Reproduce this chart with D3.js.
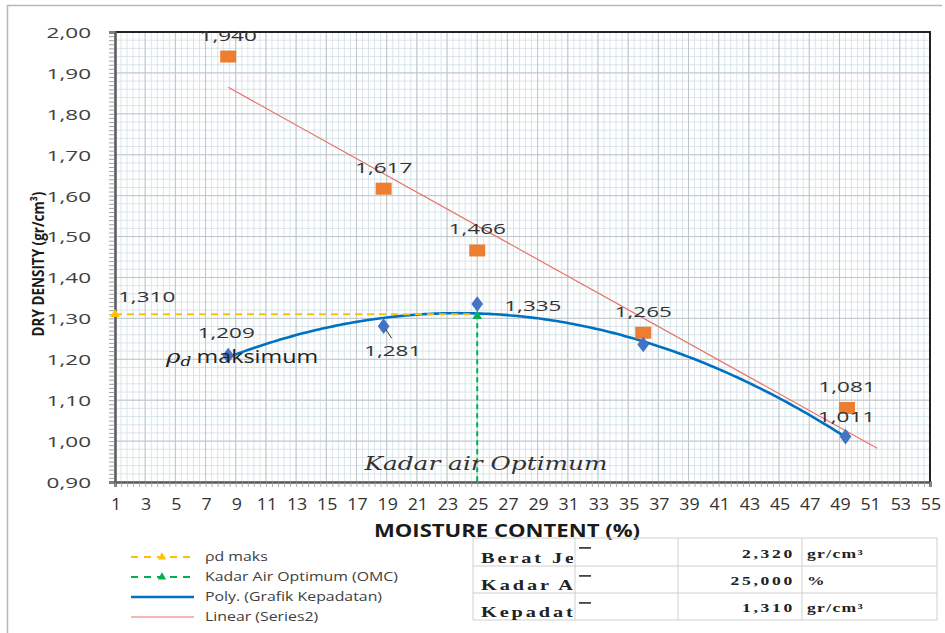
<!DOCTYPE html>
<html>
<head>
<meta charset="utf-8">
<script src="https://cdn.jsdelivr.net/npm/d3@7"></script>
<style>
  html, body { margin: 0; padding: 0; background: #fff; }
  svg { display: block; }
</style>
</head>
<body>
<svg id="chart" width="945" height="633"></svg>
<script>
// Compaction test: moisture content (%) vs dry density (gr/cm³)
const moisture      = [8.5, 18.8, 25.0, 36.0, 49.4];
const dryDensity    = [1.209, 1.281, 1.335, 1.236, 1.011];   // Grafik Kepadatan
const series2       = [1.940, 1.617, 1.466, 1.265, 1.081];   // Series2
const series2X      = [8.5, 18.8, 25.0, 36.0, 49.5];
const omc           = 25.0;     // Kadar Air Optimum
const rhoMax        = 1.310;    // ρd maks
const xTickValues   = d3.range(1, 56, 2);
const yTickValues   = [0.90, 1.00, 1.10, 1.20, 1.30, 1.40, 1.50, 1.60, 1.70, 1.80, 1.90, 2.00];
const legendLabels  = ["ρd maks", "Kadar Air Optimum (OMC)", "Poly. (Grafik Kepadatan)", "Linear (Series2)"];
const tableLabels   = ["Berat Je", "Kadar Ai", "Kepadata"];   // narrow first column cuts the names
const tableValues   = [2.320, 25.000, 1.310];
const tableUnits    = ["gr/cm³", "%", "gr/cm³"];

const C = {
  orange: "#ED7D31", diamond: "#4472C4", poly: "#0070C0", linear: "#E8736C",
  yellow: "#FFC000", green: "#00B050", text: "#404040"
};

const loc = d3.formatLocale({decimal: ",", thousands: ".", grouping: [3], currency: ["", ""]});
const f2 = loc.format(".2f"), f3 = loc.format(".3f");

const svg = d3.select("#chart");
const W = 945, H = 633;
const plot = {left: 115, right: 930, top: 32, bottom: 482};

const x = d3.scaleLinear().domain([1, 55]).range([plot.left, plot.right]);
const y = d3.scaleLinear().domain([0.90, 2.00]).range([plot.bottom, plot.top]);

// horizontally stretched text helper
function label(g, px, py, str, o = {}) {
  const t = g.append("text")
    .attr("transform", `translate(${px},${py}) scale(${o.sx || 1},1)`)
    .attr("font-family", o.family || "'Open Sans', sans-serif")
    .attr("font-size", o.size || 15)
    .attr("font-weight", o.weight || "normal")
    .attr("font-style", o.style || "normal")
    .attr("fill", o.fill || C.text)
    .attr("text-anchor", o.anchor || "start")
    .text(str);
  if (o.ls) t.attr("letter-spacing", o.ls);
  return t;
}

svg.append("rect").attr("width", W).attr("height", H).attr("fill", "#fff");
// outer chart frame
svg.append("path")
  .attr("d", "M7.5,640 V5.5 H942")
  .attr("fill", "none").attr("stroke", "#b8b8b8").attr("stroke-width", 1.5);

// ---------- grid ----------
const grid = svg.append("g");
const xMinor = d3.range(1, 55.001, 0.4);
const yMinor = d3.range(0.90, 2.0001, 0.02);
grid.selectAll(".vm").data(xMinor).join("line")
  .attr("x1", d => x(d)).attr("x2", d => x(d))
  .attr("y1", plot.top).attr("y2", plot.bottom)
  .attr("stroke", "#cfe0e6").attr("stroke-width", 0.8);
grid.selectAll(".hm").data(yMinor).join("line")
  .attr("x1", plot.left).attr("x2", plot.right)
  .attr("y1", d => y(d)).attr("y2", d => y(d))
  .attr("stroke", "#cfe0e6").attr("stroke-width", 0.8);
grid.selectAll(".vM").data(xTickValues).join("line")
  .attr("x1", d => x(d)).attr("x2", d => x(d))
  .attr("y1", plot.top).attr("y2", plot.bottom)
  .attr("stroke", "#bcc3c6").attr("stroke-width", 0.9);
grid.selectAll(".hM").data(yTickValues).join("line")
  .attr("x1", plot.left).attr("x2", plot.right)
  .attr("y1", d => y(d)).attr("y2", d => y(d))
  .attr("stroke", "#bcc3c6").attr("stroke-width", 0.9);

// plot border
svg.append("path")
  .attr("d", `M${plot.left},${plot.top} H${plot.right} V${plot.bottom}`)
  .attr("fill", "none").attr("stroke", "#222").attr("stroke-width", 2);

// ---------- axes ----------
const yMinorTicks = d3.range(0.90, 2.0001, 0.01);
svg.append("g").attr("transform", `translate(${plot.left},0)`)
  .call(d3.axisLeft(y).tickValues(yMinorTicks).tickSize(6).tickFormat(""))
  .call(g => g.select(".domain").attr("stroke", "#595959").attr("stroke-width", 2.5))
  .call(g => g.selectAll(".tick line").attr("stroke", "#8a8a8a").attr("stroke-width", 0.8));

const xMinorTicks = d3.range(1, 55.001, 0.4);
svg.append("g").attr("transform", `translate(0,${plot.bottom})`)
  .call(d3.axisBottom(x).tickValues(xMinorTicks).tickSize(5).tickFormat(""))
  .call(g => g.select(".domain").attr("stroke", "#595959").attr("stroke-width", 2.5))
  .call(g => g.selectAll(".tick line").attr("stroke", "#9a9a9a").attr("stroke-width", 0.8));

// tick labels
const yLab = svg.append("g").attr("transform", `translate(${plot.left},0)`)
  .call(d3.axisLeft(y).tickValues(yTickValues).tickSize(0).tickPadding(0).tickFormat(f2));
yLab.select(".domain").remove();
yLab.selectAll("text")
  .attr("font-family", "'Open Sans', sans-serif").attr("font-size", 15).attr("fill", C.text)
  .attr("dy", "0.36em").attr("x", -24 / 1.5)
  .attr("transform", "scale(1.5,1)");

const xLab = svg.append("g").attr("transform", `translate(0,${plot.bottom})`)
  .call(d3.axisBottom(x).tickValues(xTickValues).tickSize(0).tickPadding(0).tickFormat(d3.format("d")));
xLab.select(".domain").remove();
xLab.selectAll("text")
  .attr("font-family", "'Open Sans', sans-serif").attr("font-size", 15.5).attr("fill", "#333")
  .attr("dy", 0).attr("y", 28)
  .attr("transform", "scale(1.15,1)")
  .attr("x", 0);
xLab.selectAll(".tick").attr("transform", d => `translate(${x(d) + 1},0)`);

// axis titles
label(svg, 507, 537, "MOISTURE CONTENT (%)", {size: 17, weight: "bold", anchor: "middle", sx: 1.3, fill: "#1a1a1a"});
svg.append("text")
  .attr("transform", "translate(44,264) scale(1.2,1) rotate(-90)")
  .attr("font-family", "'Open Sans', sans-serif").attr("font-size", 13.5).attr("font-weight", "bold")
  .attr("fill", "#1a1a1a").attr("text-anchor", "middle")
  .text("DRY DENSITY (gr/cm³)");

// ---------- trendlines ----------
// least-squares linear fit for Series2
const mx = d3.mean(series2X), my = d3.mean(series2);
const slope = d3.sum(series2X, (v, i) => (v - mx) * (series2[i] - my)) / d3.sum(series2X, v => (v - mx) ** 2);
const icpt = my - slope * mx;
const linX = [d3.min(series2X), d3.max(series2X) + 2];
svg.append("line")
  .attr("x1", x(linX[0])).attr("y1", y(icpt + slope * linX[0]))
  .attr("x2", x(linX[1])).attr("y2", y(icpt + slope * linX[1]))
  .attr("stroke", C.linear).attr("stroke-width", 1.2);

// second-order polynomial fit for Grafik Kepadatan
function polyFit2(xs, ys) {
  const S = k => d3.sum(xs, v => v ** k);
  const T = k => d3.sum(xs, (v, i) => v ** k * ys[i]);
  const A = [[S(0), S(1), S(2)], [S(1), S(2), S(3)], [S(2), S(3), S(4)]];
  const b = [T(0), T(1), T(2)];
  for (let i = 0; i < 3; i++) {
    for (let j = i + 1; j < 3; j++) {
      const f = A[j][i] / A[i][i];
      for (let k = i; k < 3; k++) A[j][k] -= f * A[i][k];
      b[j] -= f * b[i];
    }
  }
  const c = [0, 0, 0];
  for (let i = 2; i >= 0; i--) {
    let s = b[i];
    for (let k = i + 1; k < 3; k++) s -= A[i][k] * c[k];
    c[i] = s / A[i][i];
  }
  return c;
}
const pc = polyFit2(moisture, dryDensity);
const polyX = d3.range(d3.min(moisture), d3.max(moisture) + 0.001, 0.25);
svg.append("path")
  .datum(polyX)
  .attr("d", d3.line().x(d => x(d)).y(d => y(pc[0] + pc[1] * d + pc[2] * d * d)).curve(d3.curveMonotoneX))
  .attr("fill", "none").attr("stroke", C.poly).attr("stroke-width", 2.6);

// ---------- reference lines ----------
const tri = d3.symbol().type(d3.symbolTriangle).size(40);
const rhoLine = [[1, rhoMax], [omc, rhoMax]];
const omcLine = [[omc, rhoMax], [omc, 0.90]];
svg.append("path").datum(rhoLine)
  .attr("d", d3.line().x(d => x(d[0])).y(d => y(d[1])))
  .attr("stroke", C.yellow).attr("stroke-width", 1.8).attr("stroke-dasharray", "7,5").attr("fill", "none");
svg.append("path").datum(omcLine)
  .attr("d", d3.line().x(d => x(d[0])).y(d => y(d[1])))
  .attr("stroke", C.green).attr("stroke-width", 2).attr("stroke-dasharray", "5,4").attr("fill", "none");
svg.append("path").attr("d", tri).attr("transform", `translate(${x(1)},${y(rhoMax)})`).attr("fill", C.yellow);
svg.append("path").attr("d", tri).attr("transform", `translate(${x(omc)},${y(rhoMax) + 2})`).attr("fill", C.green);

// ---------- points ----------
svg.selectAll(".sq").data(series2).join("rect")
  .attr("x", (d, i) => x(series2X[i]) - 8).attr("y", d => y(d) - 6)
  .attr("width", 16).attr("height", 12).attr("fill", C.orange);
svg.selectAll(".dm").data(dryDensity).join("path")
  .attr("d", d3.symbol().type(d3.symbolDiamond).size(70))
  .attr("transform", (d, i) => `translate(${x(moisture[i])},${y(d)}) scale(1.3,1)`)
  .attr("fill", C.diamond);

// ---------- data labels ----------
const lab = svg.append("g");
const lo = {size: 15, sx: 1.5, anchor: "middle", fill: "#333"};
series2.forEach((v, i) => label(lab, x(series2X[i]), y(v) - 16, f3(v), lo));
// Grafik Kepadatan labels (placed around each point)
const dOff = [[-2, -18, "middle"], [9, 30, "middle"], [27, 7, "start"], null, [1, -15, "middle"]];
dryDensity.forEach((v, i) => {
  if (!dOff[i]) return;
  label(lab, x(moisture[i]) + dOff[i][0], y(v) + dOff[i][1], f3(v), {...lo, anchor: dOff[i][2]});
});
// leader line for the 1,281 label
lab.append("line")
  .attr("x1", x(moisture[1]) + 2).attr("y1", y(dryDensity[1]) + 3)
  .attr("x2", x(moisture[1]) + 8).attr("y2", y(dryDensity[1]) + 12)
  .attr("stroke", "#333").attr("stroke-width", 1);
label(lab, x(1) + 3, y(rhoMax) - 12, f3(rhoMax), {...lo, anchor: "start"});

// annotations
const rhoTxt = lab.append("text")
  .attr("transform", "translate(166,363) scale(1.3,1)")
  .attr("fill", "#222");
rhoTxt.append("tspan").attr("font-family", "'DejaVu Serif', serif").attr("font-style", "italic")
  .attr("font-size", 19).text("ρ");
rhoTxt.append("tspan").attr("font-family", "'DejaVu Serif', serif").attr("font-style", "italic")
  .attr("font-size", 13).attr("dy", 3).text("d");
rhoTxt.append("tspan").attr("font-family", "'Open Sans', sans-serif")
  .attr("font-size", 18).attr("dy", -3).attr("dx", 4).text("maksimum");

label(lab, 486, 470, "Kadar air Optimum",
  {size: 18.5, sx: 1.34, anchor: "middle", family: "'DejaVu Serif', serif", style: "italic", fill: "#333"});

// ---------- legend ----------
const leg = svg.append("g");
const legY = [557, 577, 597, 617];
const legStyle = [
  {c: C.yellow, w: 1.8, dash: "7,6", mk: true},
  {c: C.green, w: 1.8, dash: "7,6", mk: true},
  {c: C.poly, w: 2.6, dash: null, mk: false},
  {c: C.linear, w: 1.2, dash: null, mk: false}
];
legendLabels.forEach((t, i) => {
  const s = legStyle[i];
  leg.append("line").attr("x1", 131).attr("x2", 194).attr("y1", legY[i]).attr("y2", legY[i])
    .attr("stroke", s.c).attr("stroke-width", s.w).attr("stroke-dasharray", s.dash);
  if (s.mk) leg.append("path").attr("d", d3.symbol().type(d3.symbolTriangle).size(30))
    .attr("transform", `translate(162,${legY[i]})`).attr("fill", s.c);
  label(leg, 205, legY[i] + 4, t, {size: 12.5, sx: 1.27, fill: "#404040"});
});

// ---------- summary table ----------
const tb = svg.append("g");
const colX = [473, 575, 678, 802, 937];
const rowY = [538, 566, 593, 620];
tb.selectAll(".rl").data(rowY).join("line")
  .attr("x1", colX[0]).attr("x2", colX[4]).attr("y1", d => d).attr("y2", d => d)
  .attr("stroke", "#cfcfcf").attr("stroke-width", 1);
tb.selectAll(".cl").data(colX).join("line")
  .attr("x1", d => d).attr("x2", d => d).attr("y1", rowY[0]).attr("y2", rowY[3])
  .attr("stroke", "#cfcfcf").attr("stroke-width", 1);
const defs = svg.append("defs");
const labBase = [563, 590, 617];
const valBase = [558, 585, 612];
tableLabels.forEach((t, i) => {
  defs.append("clipPath").attr("id", "cell" + i).append("rect")
    .attr("x", colX[0]).attr("y", rowY[i]).attr("width", colX[1] - colX[0] - 2).attr("height", rowY[i + 1] - rowY[i]);
  const cg = tb.append("g").attr("clip-path", `url(#cell${i})`);
  label(cg, 481, labBase[i], t, {size: 14, sx: 1.45, weight: "bold", family: "'Liberation Serif', serif", ls: 2, fill: "#222"});
  tb.append("rect").attr("x", 579).attr("y", rowY[i] + 9).attr("width", 12).attr("height", 1.8).attr("fill", "#444");
  label(tb, 795, valBase[i], f3(tableValues[i]), {size: 13, sx: 1.35, weight: "bold", family: "'Liberation Serif', serif", ls: 2, anchor: "end", fill: "#222"});
  label(tb, 807, valBase[i], tableUnits[i], {size: 13, sx: 1.35, weight: "bold", family: "'Liberation Serif', serif", ls: 1, fill: "#222"});
});
</script>
</body>
</html>
